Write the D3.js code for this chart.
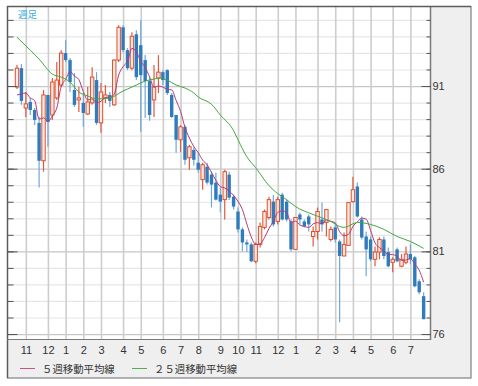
<!DOCTYPE html>
<meta charset="utf-8">
<style>
body { margin: 0; background: #fff; }
text { font-family: "Liberation Sans", Arial, sans-serif; }
.jp { font-family: "Noto Sans CJK JP", sans-serif; }
</style>
<svg width="478" height="386"></svg>
<script src="https://cdn.jsdelivr.net/npm/d3@7"></script>
<script>
// weekly candles, oldest first
var open = [90.94, 92.08, 89.67, 90.04, 89.55, 88.77, 86.48, 90.46, 89.25, 90.28,
  91.06, 92.99, 92.57, 90.76, 90.16, 89.98, 89.31, 89.98, 91.36, 88.77,
  90.28, 90.46, 89.86, 92.57, 94.55, 93.17, 92.08, 94.13, 93.47, 92.57,
  91.30, 90.16, 91.48, 91.84, 91.96, 90.46, 89.25, 87.75, 88.53, 86.66,
  87.14, 86.36, 85.34, 86.12, 85.64, 85.16, 84.43, 84.13, 85.64, 84.31,
  83.41, 82.33, 81.54, 81.42, 80.40, 81.42, 82.45, 83.05, 84.01, 82.81,
  84.43, 84.01, 82.81, 81.12, 83.23, 82.81, 83.11, 81.90, 82.20, 82.93,
  82.75, 81.72, 82.45, 81.60, 80.72, 81.36, 84.01, 84.92, 82.93, 81.90,
  81.72, 80.52, 80.96, 81.72, 80.96, 80.34, 81.12, 80.10, 80.34, 80.84,
  80.64, 79.19, 78.29];
var close = [92.08, 90.10, 89.92, 89.55, 88.95, 86.48, 90.46, 88.83, 91.24, 91.36,
  92.99, 92.57, 91.24, 89.86, 90.28, 89.37, 90.04, 91.54, 88.77, 90.64,
  90.46, 90.10, 92.57, 94.55, 93.17, 92.08, 94.01, 91.54, 91.66, 91.30,
  89.25, 90.94, 91.84, 91.36, 90.58, 89.13, 87.75, 88.53, 86.54, 87.33,
  86.54, 85.94, 86.24, 85.16, 85.04, 84.13, 84.01, 85.82, 84.25, 83.71,
  82.33, 81.54, 81.42, 80.40, 81.42, 82.51, 83.41, 84.13, 82.63, 84.13,
  82.93, 82.93, 81.12, 83.05, 82.93, 82.51, 82.63, 82.20, 83.41, 82.63,
  83.53, 82.33, 81.72, 80.72, 81.42, 83.95, 84.73, 83.11, 81.84, 81.12,
  80.52, 80.96, 81.72, 80.72, 80.10, 80.52, 80.40, 80.52, 80.84, 80.52,
  78.89, 78.53, 76.90];
var high = [92.27, 92.33, 90.64, 90.28, 89.67, 89.13, 90.76, 90.46, 91.48, 92.45,
  93.17, 93.77, 92.69, 91.78, 90.94, 90.58, 90.94, 92.14, 91.84, 91.18,
  91.06, 90.64, 92.62, 94.67, 94.67, 93.29, 94.25, 94.37, 94.98, 92.87,
  91.50, 92.27, 92.87, 91.96, 92.02, 90.58, 89.25, 88.65, 88.65, 87.45,
  87.30, 86.96, 86.36, 86.36, 85.82, 85.76, 84.86, 85.94, 85.82, 84.43,
  83.65, 82.45, 81.72, 81.54, 81.54, 82.75, 83.53, 84.31, 84.43, 84.31,
  84.55, 84.13, 82.93, 83.05, 83.35, 82.93, 83.23, 82.51, 83.65, 83.95,
  83.53, 82.51, 82.63, 81.72, 82.14, 83.95, 85.52, 85.16, 83.11, 82.20,
  81.90, 81.30, 81.84, 81.90, 81.24, 80.64, 81.24, 80.84, 81.30, 81.42,
  80.72, 79.31, 78.53];
var low = [90.82, 89.86, 89.13, 89.25, 88.65, 84.86, 85.82, 87.33, 88.95, 90.16,
  90.94, 92.45, 90.64, 89.73, 89.43, 88.53, 89.25, 89.86, 88.65, 88.17,
  89.98, 89.73, 89.80, 92.45, 93.05, 91.96, 91.96, 91.36, 88.23, 89.07,
  88.90, 89.13, 90.58, 91.06, 90.46, 89.07, 86.96, 87.02, 86.24, 85.94,
  86.20, 85.76, 84.73, 85.04, 83.65, 84.07, 83.35, 82.93, 84.10, 83.53,
  82.14, 81.00, 80.96, 80.34, 80.28, 81.24, 82.33, 82.93, 82.51, 82.63,
  82.87, 82.81, 81.00, 81.12, 82.63, 82.45, 82.20, 81.30, 81.72, 82.20,
  81.90, 81.60, 81.54, 76.72, 80.72, 81.36, 83.95, 83.05, 81.72, 79.49,
  80.40, 80.10, 80.52, 80.52, 80.04, 79.73, 80.34, 80.04, 80.22, 80.22,
  78.83, 78.41, 76.90];

// 5-week MA for the first 4 weeks (earlier weeks are off the chart)
var ma5Lead = [90.46, 90.52, 90.58, 90.28];

// 25-week MA
var ma25Week = [0, 3, 5, 8, 10, 12, 14, 16, 18, 21, 24, 25, 27, 29, 31, 32, 34, 36, 38, 40,
  41, 44, 46, 49, 50, 52, 54, 57, 59, 61, 63, 67, 71, 73, 74, 77, 80, 83, 86, 89, 92];
var ma25Value = [93.95, 93.17, 92.63, 91.72, 91.54, 91.24, 90.64, 90.40, 90.22, 90.28,
  90.70, 90.82, 91.06, 91.30, 91.42, 91.48, 91.36, 91.06, 90.88, 90.58,
  90.34, 89.90, 89.25, 88.30, 87.75, 86.72, 86.06, 84.98, 84.49, 84.13,
  83.71, 83.23, 82.81, 82.51, 82.45, 82.75, 82.63, 82.33, 81.90, 81.60, 81.18];

// month ticks: label and the week where the month starts
var monthLabels = ["11", "12", "1", "2", "3", "4", "5", "6", "7", "8", "9", "10",
  "11", "12", "1", "2", "3", "4", "5", "6", "7"];
var monthWeek = [2, 7, 11, 15, 19, 24, 28, 33, 37, 41, 46, 50, 54, 59, 63, 68, 72, 76, 80, 85, 89];

var priceLabels = [76, 81, 86, 91];

var svg = d3.select("svg");
var L = 7, R = 430, T = 6, B = 339;

var x = d3.scaleLinear().domain([-2.262, 93.44]).range([L, R]);
var y = d3.scaleLinear().domain([75.70, 95.84]).range([B, T]);

// frame
svg.append("rect").attr("x", 7.5).attr("y", 6.5).attr("width", 463.5).attr("height", 371.5)
  .attr("fill", "#efefef").attr("stroke", "#6a6a6a");
svg.append("rect").attr("x", L).attr("y", T).attr("width", R - L).attr("height", B - T)
  .attr("fill", "#fff");

svg.append("clipPath").attr("id", "plot")
  .append("rect").attr("x", L).attr("y", T).attr("width", R - L).attr("height", B - T);

var plot = svg.append("g").attr("clip-path", "url(#plot)");

// horizontal grid
plot.append("g")
  .attr("transform", "translate(" + L + ",0)")
  .call(d3.axisRight(y).tickValues(d3.range(76, 96)).tickSize(R - L).tickFormat(""))
  .call(function(g) {
    g.select(".domain").remove();
    g.selectAll(".tick line")
      .attr("stroke", function(d) { return (d - 76) % 5 === 0 ? "#c6c6c6" : "#e6e6e6"; })
      .attr("stroke-width", 1.2);
  });

// vertical month grid
plot.append("g")
  .attr("transform", "translate(0," + B + ")")
  .call(d3.axisBottom(x).tickValues(monthWeek).tickSize(-(B - T)).tickFormat(""))
  .call(function(g) {
    g.select(".domain").remove();
    g.selectAll(".tick line").attr("stroke", "#cdcdcd").attr("stroke-width", 1.6);
  });

// candles
var weeks = d3.range(close.length);
var bw = 3.4;
var candle = plot.append("g").selectAll("g").data(weeks).enter().append("g");

candle.append("line")
  .attr("x1", function(i) { return x(i); })
  .attr("x2", function(i) { return x(i); })
  .attr("y1", function(i) { return y(high[i]); })
  .attr("y2", function(i) { return y(low[i]); })
  .attr("stroke", function(i) { return close[i] >= open[i] ? "#e2583a" : "#6ea7d8"; })
  .attr("stroke-width", 1.2);

candle.append("rect")
  .attr("x", function(i) { return x(i) - bw / 2; })
  .attr("width", bw)
  .attr("y", function(i) { return y(Math.max(open[i], close[i])); })
  .attr("height", function(i) { return Math.max(1, Math.abs(y(open[i]) - y(close[i]))); })
  .attr("fill", function(i) { return close[i] >= open[i] ? "#fcebe5" : "#2f7bbd"; })
  .attr("stroke", function(i) { return close[i] >= open[i] ? "#df4f2c" : "#2f7bbd"; })
  .attr("stroke-width", function(i) { return close[i] >= open[i] ? 1 : 0; });

// moving averages
var ma5 = weeks.map(function(i) {
  return i < 4 ? ma5Lead[i] : d3.mean(close.slice(i - 4, i + 1));
});

plot.append("path")
  .datum(ma5)
  .attr("fill", "none")
  .attr("stroke", "#b23a7a")
  .attr("stroke-width", 1)
  .attr("d", d3.line().x(function(d, i) { return x(i); }).y(function(d) { return y(d); })
    .curve(d3.curveMonotoneX));

plot.append("path")
  .datum(d3.zip(ma25Week, ma25Value))
  .attr("fill", "none")
  .attr("stroke", "#3fa83f")
  .attr("stroke-width", 1)
  .attr("d", d3.line().x(function(d) { return x(d[0]); }).y(function(d) { return y(d[1]); })
    .curve(d3.curveMonotoneX));

// axis lines
svg.append("line").attr("x1", L + 0.5).attr("x2", L + 0.5).attr("y1", T).attr("y2", 378)
  .attr("stroke", "#5c5c5c").attr("stroke-width", 1.5);
svg.append("line").attr("x1", R + 0.5).attr("x2", R + 0.5).attr("y1", T).attr("y2", B + 1)
  .attr("stroke", "#7a7a7a").attr("stroke-width", 1.5);
svg.append("line").attr("x1", L).attr("x2", R + 1).attr("y1", B + 0.5).attr("y2", B + 0.5)
  .attr("stroke", "#7a7a7a").attr("stroke-width", 1.2);
svg.append("line").attr("x1", L).attr("x2", 471).attr("y1", T + 0.5).attr("y2", T + 0.5)
  .attr("stroke", "#5c5c5c").attr("stroke-width", 1.5);

// tick marks: left (inward) and right (inward)
function ticks(g, axis) {
  g.call(axis).call(function(s) {
    s.select(".domain").remove();
    s.selectAll(".tick line").attr("stroke", "#555");
  });
}
svg.append("g").attr("transform", "translate(" + (L + 0.5) + ",0)")
  .call(ticks, d3.axisRight(y).tickValues(d3.range(76, 96)).tickSize(6).tickFormat(""));
svg.append("g").attr("transform", "translate(" + (L + 0.5) + ",0)")
  .call(ticks, d3.axisRight(y).tickValues(priceLabels).tickSize(10).tickFormat(""));
svg.append("g").attr("transform", "translate(" + (R + 0.5) + ",0)")
  .call(ticks, d3.axisLeft(y).tickValues(d3.range(76, 96)).tickSize(4).tickFormat(""));
svg.append("g").attr("transform", "translate(" + (R + 0.5) + ",0)")
  .call(ticks, d3.axisLeft(y).tickValues(priceLabels).tickSize(9).tickFormat(""));

// price labels
svg.append("g").attr("transform", "translate(" + (R + 0.5) + ",0)")
  .call(d3.axisRight(y).tickValues(priceLabels).tickSize(0).tickPadding(2))
  .call(function(g) {
    g.select(".domain").remove();
    g.selectAll("text").attr("fill", "#333").style("font-size", "11px")
      .style("font-family", "'Liberation Sans', Arial, sans-serif");
  });

// month labels
svg.append("g").attr("transform", "translate(0," + B + ")")
  .call(d3.axisBottom(x).tickValues(monthWeek).tickSize(0).tickPadding(7)
    .tickFormat(function(d, i) { return monthLabels[i]; }))
  .call(function(g) {
    g.select(".domain").remove();
    g.selectAll("text").attr("fill", "#333").style("font-size", "11px")
      .style("font-family", "'Liberation Sans', Arial, sans-serif");
  });

// title
svg.append("text").attr("class", "jp").attr("x", 18).attr("y", 18)
  .attr("fill", "#35aee6").style("font-size", "9.5px").text("週足");

// legend
var legend = [
  {label: "５週移動平均線", color: "#c4548c", x: 20},
  {label: "２５週移動平均線", color: "#4cb04c", x: 132}
];
var lg = svg.append("g").selectAll("g").data(legend).enter().append("g");
lg.append("line")
  .attr("x1", function(d) { return d.x; }).attr("x2", function(d) { return d.x + 15; })
  .attr("y1", 368.5).attr("y2", 368.5)
  .attr("stroke", function(d) { return d.color; }).attr("stroke-width", 1);
lg.append("text").attr("class", "jp")
  .attr("x", function(d) { return d.x + 22; }).attr("y", 372.5)
  .attr("fill", "#333").style("font-size", "10.4px")
  .text(function(d) { return d.label; });
</script>
